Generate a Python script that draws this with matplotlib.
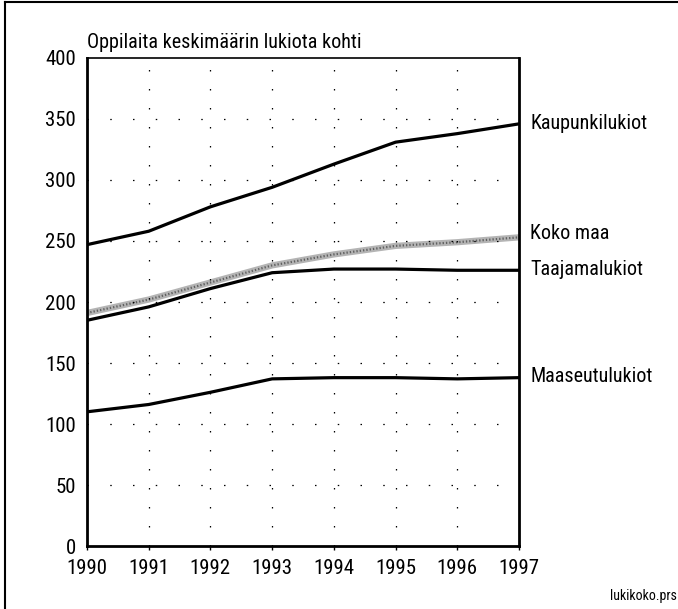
import matplotlib
matplotlib.use("Agg")
import matplotlib.pyplot as plt
from matplotlib.lines import Line2D

plt.rcParams['font.family'] = ['Roboto Condensed', 'DejaVu Sans']

years = [1990, 1991, 1992, 1993, 1994, 1995, 1996, 1997]
kaupunki = [247, 258, 278, 294, 313, 331, 338, 346]
koko_maa = [191, 202, 216, 230, 239, 246, 249, 253]
taajama = [185, 196, 211, 224, 227, 227, 226, 226]
maaseutu = [110, 116, 126, 137, 138, 138, 137, 138]
yticks = [0, 50, 100, 150, 200, 250, 300, 350, 400]

fig = plt.figure(figsize=(6.78, 6.09), dpi=100)
ax = fig.add_axes([0.1283, 0.1034, 0.6372, 0.8014])

ax.plot(years, kaupunki, color='black', lw=2.3, solid_capstyle='butt')
ax.plot(years, taajama, color='black', lw=2.3, solid_capstyle='butt')
ax.plot(years, maaseutu, color='black', lw=2.3, solid_capstyle='butt')
# textured gray line
ax.plot(years, koko_maa, color='#b4b4b4', lw=4.5, solid_capstyle='butt')
ax.plot(years, koko_maa, color='#606060', lw=1.6, ls=(0, (0.6, 0.9)))

ax.set_xlim(1990, 1997)
ax.set_ylim(0, 400)
ax.set_xticks(years)
ax.set_yticks(yticks)
ax.tick_params(axis='y', length=0, labelsize=15, pad=8)
ax.tick_params(axis='x', length=3, width=1, direction='out', labelsize=15, pad=6)

for y in yticks[1:-1]:
    ax.axhline(y, color='black', lw=0.9, ls=(0, (1.2, 17)))
for x in years[1:-1]:
    ax.axvline(x, color='black', lw=0.9, ls=(0, (1.2, 14)))

for side in ['left', 'bottom', 'right']:
    ax.spines[side].set_linewidth(2)
ax.spines['top'].set_linewidth(1.2)

ax.text(1990, 405, 'Oppilaita keskimäärin lukiota kohti', fontsize=14.5,
        ha='left', va='bottom')

labels = ['Kaupunkilukiot', 'Koko maa', 'Taajamalukiot', 'Maaseutulukiot']
series = [kaupunki, koko_maa, taajama, maaseutu]
offsets = [0, 3, 1, 1]
for lab, s, off in zip(labels, series, offsets):
    ax.text(1997.18, s[-1] + off, lab, fontsize=14.5, ha='left', va='center')

fig.text(0.998, 0.01, 'lukikoko.prs', fontsize=10, ha='right', va='bottom')

# figure frame: left and top
fig.add_artist(Line2D([0.008, 0.008], [0, 0.997], color='black', lw=1.5))
fig.add_artist(Line2D([0.008, 1.0], [0.997, 0.997], color='black', lw=1.5))

fig.savefig('out.png', dpi=100)
